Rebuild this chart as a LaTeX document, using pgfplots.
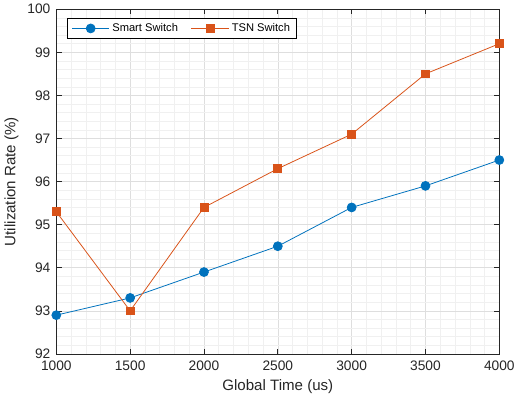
\documentclass[border=0pt]{standalone}
\usepackage{fontspec}
\setmainfont{Liberation Sans}
\usepackage{pgfplots}
\pgfplotsset{compat=1.18}
\definecolor{mblue}{RGB}{0,114,189}
\definecolor{morange}{RGB}{217,83,25}
\definecolor{axgray}{RGB}{38,38,38}

\begin{document}
\begin{tikzpicture}
  \begin{axis}[
    scale only axis,
    width=338pt, height=263pt,
    xmin=1000, xmax=4000,
    ymin=92, ymax=100,
    xtick={1000,1500,...,4000},
    ytick={92,93,...,100},
    minor x tick num=4,
    minor y tick num=4,
    grid=both,
    major grid style={draw=black!13, line width=0.4pt},
    minor grid style={draw=black!6, line width=0.4pt},
    axis line style={draw=axgray, line width=0.5pt},
    tick style={draw=axgray, line width=0.5pt},
    tick align=inside,
    major tick length=4pt,
    minor tick length=0pt,
    xticklabel style={font=\fontsize{10.5}{12}\selectfont, text=axgray, yshift=-2pt},
    yticklabel style={font=\fontsize{10.5}{12}\selectfont, text=axgray, xshift=-1pt},
    /pgf/number format/assume math mode=true,
    /pgf/number format/1000 sep={},
    xlabel={Global Time (us)},
    ylabel={Utilization Rate (\%)},
    label style={font=\fontsize{11.5}{13}\selectfont, text=axgray},
    legend style={at={(0.025,0.975)}, anchor=north west, legend columns=2,
      font=\fontsize{8.5}{10}\selectfont, draw=black, line width=0.5pt,
      /tikz/every even column/.append style={column sep=8pt}},
    legend cell align=left,
    legend image code/.code={%
      \draw[mark repeat=2,mark phase=2,#1]
        plot coordinates {(0cm,0cm) (0.5cm,0cm) (1.0cm,0cm)};},
  ]
    \addplot[color=mblue, line width=0.6pt, mark=*, mark size=3.4pt,
      mark options={fill=mblue, draw=mblue}]
      coordinates {(1000,92.9) (1500,93.3) (2000,93.9) (2500,94.5) (3000,95.4) (3500,95.9) (4000,96.5)};
    \addlegendentry{Smart Switch}
    \addplot[color=morange, line width=0.6pt, mark=square*, mark size=3.0pt,
      mark options={fill=morange, draw=morange}]
      coordinates {(1000,95.3) (1500,93.0) (2000,95.4) (2500,96.3) (3000,97.1) (3500,98.5) (4000,99.2)};
    \addlegendentry{TSN Switch}
  \end{axis}
\end{tikzpicture}
\end{document}
